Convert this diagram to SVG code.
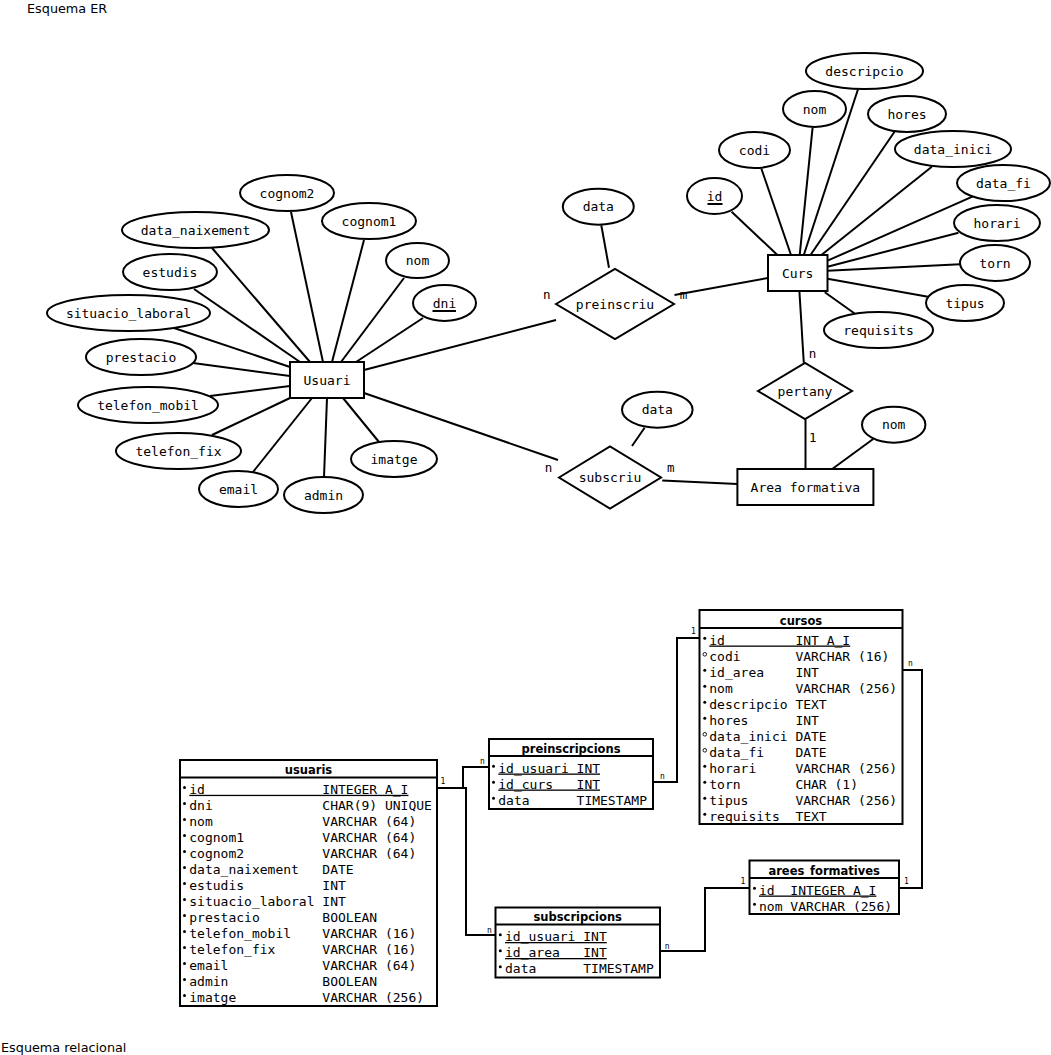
<svg xmlns="http://www.w3.org/2000/svg" width="1051" height="1055" viewBox="0 0 1051 1055">
<style>
.bg{fill:#fff}
.sh{fill:#fff;stroke:#000;stroke-width:2}
.ln{fill:none;stroke:#000;stroke-width:2}
.t{font-family:"DejaVu Sans Mono",monospace;font-size:13px;fill:#000;text-anchor:middle}
.c{font-family:"DejaVu Sans Mono",monospace;font-size:12.5px;fill:#000;text-anchor:middle}
.s{font-family:"DejaVu Sans Mono",monospace;font-size:8px;fill:#000;text-anchor:middle}
.r{font-family:"DejaVu Sans Mono",monospace;font-size:13px;fill:#000;white-space:pre}
.u{text-decoration:underline}
.h{font-family:"DejaVu Sans",sans-serif;font-size:11.5px;font-weight:bold;fill:#000;text-anchor:middle}
.ttl{font-family:"DejaVu Sans",sans-serif;font-size:12.8px;fill:#000}
.d{fill:#000}
.o{fill:#fff;stroke:#000;stroke-width:0.9}
</style>
<rect class="bg" x="0" y="0" width="1051" height="1055"/>
<text class="ttl" x="27" y="12.7">Esquema ER</text>
<text class="ttl" x="1" y="1052">Esquema relacional</text>

<g id="connectors">
<!-- Usuari attributes -->
<line class="ln" x1="291" y1="212" x2="323" y2="362"/>
<line class="ln" x1="212" y1="248" x2="310" y2="362"/>
<line class="ln" x1="364" y1="240" x2="332" y2="362"/>
<line class="ln" x1="404" y1="278" x2="341" y2="362"/>
<line class="ln" x1="423" y1="318" x2="356" y2="362"/>
<line class="ln" x1="194" y1="289" x2="300" y2="362"/>
<line class="ln" x1="174" y1="328" x2="290" y2="367"/>
<line class="ln" x1="193" y1="363" x2="290" y2="376"/>
<line class="ln" x1="210" y1="396" x2="290" y2="386"/>
<line class="ln" x1="212" y1="435" x2="290" y2="398"/>
<line class="ln" x1="253" y1="472" x2="312" y2="398"/>
<line class="ln" x1="324" y1="477" x2="327" y2="398"/>
<line class="ln" x1="379" y1="442" x2="343" y2="398"/>
<line class="ln" x1="364" y1="370" x2="556" y2="320"/>
<line class="ln" x1="364" y1="393" x2="558" y2="460"/>
<!-- Curs attributes -->
<line class="ln" x1="731.6" y1="211.7" x2="777.4" y2="255"/>
<line class="ln" x1="761.4" y1="168.7" x2="791" y2="255"/>
<line class="ln" x1="812.6" y1="127.7" x2="799.7" y2="255"/>
<line class="ln" x1="858" y1="89.3" x2="803.8" y2="255"/>
<line class="ln" x1="894.5" y1="131.7" x2="810.5" y2="255"/>
<line class="ln" x1="931.8" y1="166.7" x2="821.4" y2="255"/>
<line class="ln" x1="972.4" y1="196.7" x2="827.5" y2="260.7"/>
<line class="ln" x1="958.5" y1="232.7" x2="827.5" y2="266.7"/>
<line class="ln" x1="960.2" y1="264.3" x2="827.5" y2="270.7"/>
<line class="ln" x1="928" y1="296.7" x2="827.5" y2="278.7"/>
<line class="ln" x1="855.3" y1="314" x2="824.8" y2="292.3"/>
<!-- relationships -->
<line class="ln" x1="674.5" y1="295" x2="768" y2="278"/>
<line class="ln" x1="601.3" y1="225.3" x2="609" y2="267.7"/>
<line class="ln" x1="799.4" y1="291" x2="803.8" y2="362.7"/>
<line class="ln" x1="805.5" y1="419.3" x2="805.5" y2="469"/>
<line class="ln" x1="873.2" y1="439" x2="832.2" y2="469"/>
<line class="ln" x1="644.6" y1="427.7" x2="632" y2="446"/>
<line class="ln" x1="662.2" y1="480.5" x2="737.4" y2="484"/>
<!-- relational -->
<path class="ln" d="M437,788 H463 V767 H489"/>
<path class="ln" d="M437,788 H466 V935 H495.5"/>
<path class="ln" d="M653,782 H677 V638 H699.5"/>
<path class="ln" d="M660,951 H705 V888 H749.5"/>
<path class="ln" d="M902.5,670 H922 V888 H899"/>
<!-- cardinalities ER -->
<text class="c" x="546.7" y="298.5">n</text>
<text class="c" x="683.5" y="298.5">m</text>
<text class="c" x="812.5" y="358">n</text>
<text class="c" x="812.7" y="442">1</text>
<text class="c" x="548.5" y="472">n</text>
<text class="c" x="670.7" y="472">m</text>
<!-- cardinalities relational -->
<text class="s" x="443" y="784">1</text>
<text class="s" x="482.3" y="763.5">n</text>
<text class="s" x="489.5" y="932.5">n</text>
<text class="s" x="662.3" y="779">n</text>
<text class="s" x="693.3" y="634">1</text>
<text class="s" x="667.2" y="948.5">n</text>
<text class="s" x="743" y="883.5">1</text>
<text class="s" x="910.3" y="666">n</text>
<text class="s" x="906.3" y="883.5">1</text>
</g>

<!-- ER entities -->
<g id="usuari"><rect class="sh" x="290" y="362" width="74" height="36"/><text class="t" x="327" y="384.5">Usuari</text></g>
<g id="curs"><rect class="sh" x="768" y="255" width="59.5" height="36"/><text class="t" x="797.7" y="277.5">Curs</text></g>
<g id="area-formativa"><rect class="sh" x="737.4" y="469" width="136" height="36"/><text class="t" x="805.4" y="491.5">Area formativa</text></g>

<!-- relationships -->
<g id="preinscriu"><polygon class="sh" points="556,304 615,269 674,304 615,339"/><text class="t" x="615" y="308.5">preinscriu</text></g>
<g id="pertany"><polygon class="sh" points="758,391 805,363 852,391 805,419"/><text class="t" x="805" y="395.5">pertany</text></g>
<g id="subscriu"><polygon class="sh" points="559,477.5 610,446.5 661,477.5 610,508.5"/><text class="t" x="610" y="482">subscriu</text></g>

<!-- Usuari attributes -->
<g id="a-cognom2"><ellipse class="sh" cx="287" cy="193" rx="47" ry="18"/><text class="t" x="287" y="197.5">cognom2</text></g>
<g id="a-data_naixement"><ellipse class="sh" cx="195.5" cy="230" rx="73.5" ry="18"/><text class="t" x="195.5" y="234.5">data_naixement</text></g>
<g id="a-cognom1"><ellipse class="sh" cx="369" cy="221" rx="47" ry="18"/><text class="t" x="369" y="225.5">cognom1</text></g>
<g id="a-nom-u"><ellipse class="sh" cx="417.5" cy="260.5" rx="31.5" ry="17.5"/><text class="t" x="417.5" y="265">nom</text></g>
<g id="a-estudis"><ellipse class="sh" cx="170" cy="272" rx="47" ry="18"/><text class="t" x="170" y="276.5">estudis</text></g>
<g id="a-dni"><ellipse class="sh" cx="444.5" cy="303" rx="31.5" ry="18"/><text class="t" x="444.5" y="307.5">dni</text><line class="ln" x1="432.5" y1="311" x2="456" y2="311"/></g>
<g id="a-situacio_laboral"><ellipse class="sh" cx="128.5" cy="313" rx="81.5" ry="18"/><text class="t" x="128.5" y="317.5">situacio_laboral</text></g>
<g id="a-prestacio"><ellipse class="sh" cx="141" cy="357" rx="55" ry="18"/><text class="t" x="141" y="361.5">prestacio</text></g>
<g id="a-telefon_mobil"><ellipse class="sh" cx="148" cy="405" rx="70" ry="18"/><text class="t" x="148" y="409.5">telefon_mobil</text></g>
<g id="a-telefon_fix"><ellipse class="sh" cx="178.5" cy="451" rx="62.5" ry="18"/><text class="t" x="178.5" y="455.5">telefon_fix</text></g>
<g id="a-email"><ellipse class="sh" cx="238.5" cy="489" rx="39.5" ry="18"/><text class="t" x="238.5" y="493.5">email</text></g>
<g id="a-admin"><ellipse class="sh" cx="323.5" cy="495" rx="39.5" ry="18"/><text class="t" x="323.5" y="499.5">admin</text></g>
<g id="a-imatge"><ellipse class="sh" cx="394" cy="459" rx="43" ry="18"/><text class="t" x="394" y="463.5">imatge</text></g>

<!-- Curs attributes -->
<g id="a-descripcio"><ellipse class="sh" cx="864.5" cy="71" rx="58.5" ry="18"/><text class="t" x="864.5" y="75.5">descripcio</text></g>
<g id="a-nom-c"><ellipse class="sh" cx="814.5" cy="109" rx="31.5" ry="18"/><text class="t" x="814.5" y="113.5">nom</text></g>
<g id="a-hores"><ellipse class="sh" cx="907" cy="114" rx="39" ry="18"/><text class="t" x="907" y="118.5">hores</text></g>
<g id="a-codi"><ellipse class="sh" cx="754.5" cy="150" rx="35.5" ry="18"/><text class="t" x="754.5" y="154.5">codi</text></g>
<g id="a-data_inici"><ellipse class="sh" cx="953" cy="149" rx="58" ry="18"/><text class="t" x="953" y="153.5">data_inici</text></g>
<g id="a-id"><ellipse class="sh" cx="714.5" cy="196" rx="27.5" ry="18"/><text class="t" x="714.5" y="200.5">id</text><line class="ln" x1="707.5" y1="204" x2="722.5" y2="204"/></g>
<g id="a-data_fi"><ellipse class="sh" cx="1003.5" cy="183" rx="46.5" ry="18"/><text class="t" x="1003.5" y="187.5">data_fi</text></g>
<g id="a-horari"><ellipse class="sh" cx="997" cy="223" rx="43" ry="18"/><text class="t" x="997" y="227.5">horari</text></g>
<g id="a-torn"><ellipse class="sh" cx="995" cy="263" rx="35" ry="18"/><text class="t" x="995" y="267.5">torn</text></g>
<g id="a-tipus"><ellipse class="sh" cx="965" cy="303" rx="39" ry="18"/><text class="t" x="965" y="307.5">tipus</text></g>
<g id="a-requisits"><ellipse class="sh" cx="878.5" cy="330" rx="54.5" ry="18"/><text class="t" x="878.5" y="334.5">requisits</text></g>

<!-- relationship attributes -->
<g id="a-data-p"><ellipse class="sh" cx="598.3" cy="206.7" rx="35.5" ry="18"/><text class="t" x="598.3" y="211.2">data</text></g>
<g id="a-data-s"><ellipse class="sh" cx="657.3" cy="409.7" rx="35.3" ry="18"/><text class="t" x="657.3" y="414.2">data</text></g>
<g id="a-nom-a"><ellipse class="sh" cx="893.7" cy="424.7" rx="31.7" ry="18"/><text class="t" x="893.7" y="429.2">nom</text></g>

<!-- Relational tables -->
<g id="t-usuaris">
<rect class="sh" x="180" y="760" width="257" height="246"/>
<line class="ln" x1="180" y1="777.5" x2="437" y2="777.5"/>
<text class="h" x="308.5" y="774">usuaris</text>
<circle class="d" cx="184.5" cy="787.5" r="1.5"/><text class="r u" x="189.3" y="793.8">id               INTEGER A_I</text>
<circle class="d" cx="184.5" cy="803.5" r="1.5"/><text class="r" x="189.3" y="809.8">dni              CHAR(9) UNIQUE</text>
<circle class="d" cx="184.5" cy="819.5" r="1.5"/><text class="r" x="189.3" y="825.8">nom              VARCHAR (64)</text>
<circle class="d" cx="184.5" cy="835.5" r="1.5"/><text class="r" x="189.3" y="841.8">cognom1          VARCHAR (64)</text>
<circle class="d" cx="184.5" cy="851.5" r="1.5"/><text class="r" x="189.3" y="857.8">cognom2          VARCHAR (64)</text>
<circle class="d" cx="184.5" cy="867.5" r="1.5"/><text class="r" x="189.3" y="873.8">data_naixement   DATE</text>
<circle class="d" cx="184.5" cy="883.5" r="1.5"/><text class="r" x="189.3" y="889.8">estudis          INT</text>
<circle class="d" cx="184.5" cy="899.5" r="1.5"/><text class="r" x="189.3" y="905.8">situacio_laboral INT</text>
<circle class="d" cx="184.5" cy="915.5" r="1.5"/><text class="r" x="189.3" y="921.8">prestacio        BOOLEAN</text>
<circle class="d" cx="184.5" cy="931.5" r="1.5"/><text class="r" x="189.3" y="937.8">telefon_mobil    VARCHAR (16)</text>
<circle class="d" cx="184.5" cy="947.5" r="1.5"/><text class="r" x="189.3" y="953.8">telefon_fix      VARCHAR (16)</text>
<circle class="d" cx="184.5" cy="963.5" r="1.5"/><text class="r" x="189.3" y="969.8">email            VARCHAR (64)</text>
<circle class="d" cx="184.5" cy="979.5" r="1.5"/><text class="r" x="189.3" y="985.8">admin            BOOLEAN</text>
<circle class="d" cx="184.5" cy="995.5" r="1.5"/><text class="r" x="189.3" y="1001.8">imatge           VARCHAR (256)</text>
</g>

<g id="t-preinscripcions">
<rect class="sh" x="489" y="739" width="164" height="70"/>
<line class="ln" x1="489" y1="756" x2="653" y2="756"/>
<text class="h" x="571" y="752.5">preinscripcions</text>
<circle class="d" cx="493.5" cy="766.2" r="1.5"/><text class="r u" x="498.3" y="772.5">id_usuari INT</text>
<circle class="d" cx="493.5" cy="782.2" r="1.5"/><text class="r u" x="498.3" y="788.5">id_curs   INT</text>
<circle class="d" cx="493.5" cy="798.2" r="1.5"/><text class="r" x="498.3" y="804.5">data      TIMESTAMP</text>
</g>

<g id="t-subscripcions">
<rect class="sh" x="495.5" y="907.5" width="164.5" height="70"/>
<line class="ln" x1="495.5" y1="924.5" x2="660" y2="924.5"/>
<text class="h" x="577.7" y="921">subscripcions</text>
<circle class="d" cx="500.3" cy="934.8" r="1.5"/><text class="r u" x="505" y="941">id_usuari INT</text>
<circle class="d" cx="500.3" cy="950.8" r="1.5"/><text class="r u" x="505" y="957">id_area   INT</text>
<circle class="d" cx="500.3" cy="966.8" r="1.5"/><text class="r" x="505" y="973">data      TIMESTAMP</text>
</g>

<g id="t-cursos">
<rect class="sh" x="699.5" y="610" width="203" height="214"/>
<line class="ln" x1="699.5" y1="628" x2="902.5" y2="628"/>
<text class="h" x="801" y="624.5">cursos</text>
<circle class="d" cx="704.8" cy="638.3" r="1.5"/><text class="r u" x="709.3" y="644.5">id         INT A_I</text>
<circle class="o" cx="704.8" cy="654.3" r="1.8"/><text class="r" x="709.3" y="660.5">codi       VARCHAR (16)</text>
<circle class="d" cx="704.8" cy="670.3" r="1.5"/><text class="r" x="709.3" y="676.5">id_area    INT</text>
<circle class="d" cx="704.8" cy="686.3" r="1.5"/><text class="r" x="709.3" y="692.5">nom        VARCHAR (256)</text>
<circle class="d" cx="704.8" cy="702.3" r="1.5"/><text class="r" x="709.3" y="708.5">descripcio TEXT</text>
<circle class="d" cx="704.8" cy="718.3" r="1.5"/><text class="r" x="709.3" y="724.5">hores      INT</text>
<circle class="o" cx="704.8" cy="734.3" r="1.8"/><text class="r" x="709.3" y="740.5">data_inici DATE</text>
<circle class="o" cx="704.8" cy="750.3" r="1.8"/><text class="r" x="709.3" y="756.5">data_fi    DATE</text>
<circle class="d" cx="704.8" cy="766.3" r="1.5"/><text class="r" x="709.3" y="772.5">horari     VARCHAR (256)</text>
<circle class="d" cx="704.8" cy="782.3" r="1.5"/><text class="r" x="709.3" y="788.5">torn       CHAR (1)</text>
<circle class="d" cx="704.8" cy="798.3" r="1.5"/><text class="r" x="709.3" y="804.5">tipus      VARCHAR (256)</text>
<circle class="d" cx="704.8" cy="814.3" r="1.5"/><text class="r" x="709.3" y="820.5">requisits  TEXT</text>
</g>

<g id="t-arees_formatives">
<rect class="sh" x="749.5" y="860.5" width="149.5" height="53.5"/>
<line class="ln" x1="749.5" y1="878" x2="899" y2="878"/>
<text class="h" x="824.2" y="874.5">arees_formatives</text>
<circle class="d" cx="754.5" cy="888.3" r="1.5"/><text class="r u" x="759" y="894.5">id  INTEGER A_I</text>
<circle class="d" cx="754.5" cy="904.3" r="1.5"/><text class="r" x="759" y="910.5">nom VARCHAR (256)</text>
</g>
</svg>
